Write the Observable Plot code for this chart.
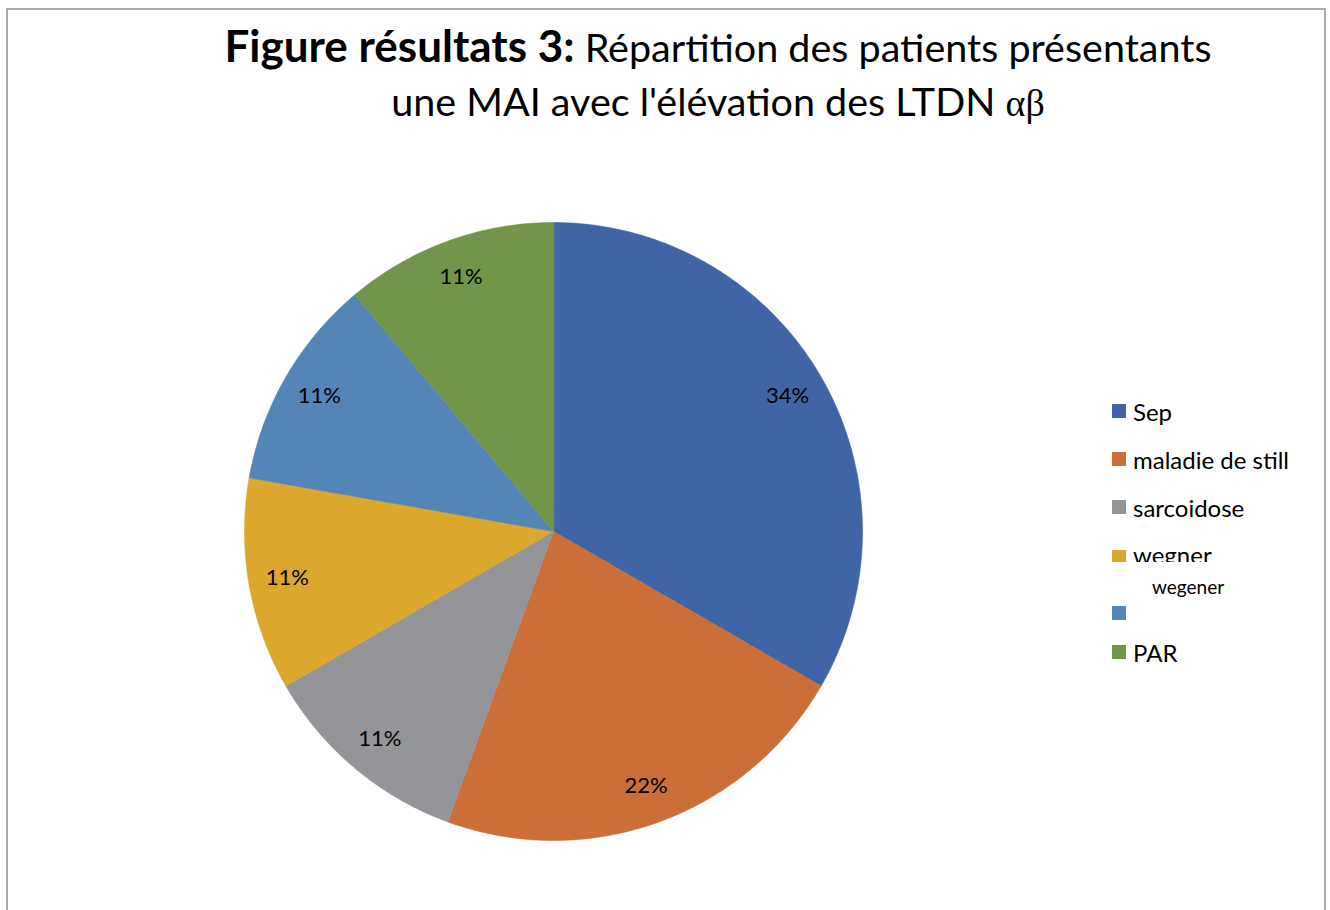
<!DOCTYPE html>
<html><head><meta charset="utf-8">
<script src="https://cdn.jsdelivr.net/npm/d3@7"></script>
<script src="https://cdn.jsdelivr.net/npm/@observablehq/plot@0.6"></script>
<style>
html,body{margin:0;padding:0;background:#fff;}
body{width:1330px;height:910px;position:relative;overflow:hidden;font-family:Lato,"Open Sans",sans-serif;}
#frame{position:absolute;left:6px;top:8px;width:1316px;height:920px;border:2px solid #a9a9a9;border-bottom:none;}
#title{position:absolute;left:60px;width:1316px;top:18px;text-align:center;font-size:39.5px;line-height:54px;color:#000;}
#title b{font-weight:700;font-size:44px;}
#title .gr{font-family:"Liberation Serif","DejaVu Serif",serif;font-size:38px;}
#chart{position:absolute;left:244px;top:222px;}
#chart svg{overflow:visible;background:transparent;}
.leg{position:absolute;left:1112px;height:24px;display:flex;align-items:center;font-size:24px;color:#000;white-space:nowrap;}
.leg .sw{width:14px;height:14px;margin-right:7px;flex:none;}
</style></head>
<body>
<div id="frame"></div>
<div id="title"><b>Figure résultats 3:</b> Répartition des patients présentants<br>une MAI avec l'élévation des LTDN <span class="gr">αβ</span></div>
<div id="chart"></div>
<div id="legend"></div>
<script>
const categories = ["Sep", "maladie de still", "sarcoidose", "wegner", "wegener", "PAR"];
const counts = [3, 2, 1, 1, 1, 1];
const pctLabels = ["34%", "22%", "11%", "11%", "11%", "11%"];
const colors = ["#4065A6", "#CB6E37", "#949598", "#DBA72D", "#5385B6", "#72954A"];

const rows = categories.map((name, i) => ({name, value: counts[i], label: pctLabels[i]}));
const arcs = d3.pie().sort(null).value(d => d.value)(rows);

const poly = [];
for (const a of arcs) {
  poly.push({name: a.data.name, x: 0, y: 0});
  const n = Math.max(8, Math.ceil((a.endAngle - a.startAngle) / 0.01));
  for (let k = 0; k <= n; k++) {
    const t = a.startAngle + (a.endAngle - a.startAngle) * k / n;
    poly.push({name: a.data.name, x: Math.sin(t), y: Math.cos(t)});
  }
}
const labelR = 0.875;
const labelPts = arcs.map(a => {
  const m = (a.startAngle + a.endAngle) / 2;
  return {name: a.data.name, label: a.data.label, x: labelR * Math.sin(m), y: labelR * Math.cos(m)};
});

const plot = Plot.plot({
  width: 618, height: 618, margin: 0,
  x: {domain: [-1, 1], axis: null},
  y: {domain: [-1, 1], axis: null},
  color: {domain: categories, range: colors},
  style: {background: "transparent", overflow: "visible"},
  marks: [
    Plot.line(poly, {x: "x", y: "y", z: "name", fill: "name", stroke: "name", strokeWidth: 0.6, curve: "linear-closed"}),
    Plot.text(labelPts, {x: "x", y: "y", text: "label", fill: "#000", fontSize: 22, fontFamily: "Lato, sans-serif"})
  ]
});
document.getElementById("chart").appendChild(plot);

// legend
const leg = document.getElementById("legend");
const legTops = [399, 447, 495, 544, 592, 640];
categories.forEach((c, i) => {
  const d = document.createElement("div");
  d.className = "leg";
  d.style.top = legTops[i] + "px";
  const sw = document.createElement("span");
  sw.className = "sw";
  sw.style.background = colors[i];
  const tx = document.createElement("span");
  tx.textContent = c;
  if (c === "wegner") {
    d.style.height = "18px"; d.style.alignItems = "flex-start"; d.style.overflow = "hidden";
    sw.style.marginTop = "6px";
    tx.style.lineHeight = "24px"; tx.style.marginTop = "-1px";
  }
  if (c === "wegener") {
    sw.style.marginTop = "18px";
    tx.style.fontSize = "19px"; tx.style.position = "absolute"; tx.style.left = "40px"; tx.style.top = "-17px";
  }
  d.appendChild(sw); d.appendChild(tx);
  leg.appendChild(d);
});
</script>
</body></html>
